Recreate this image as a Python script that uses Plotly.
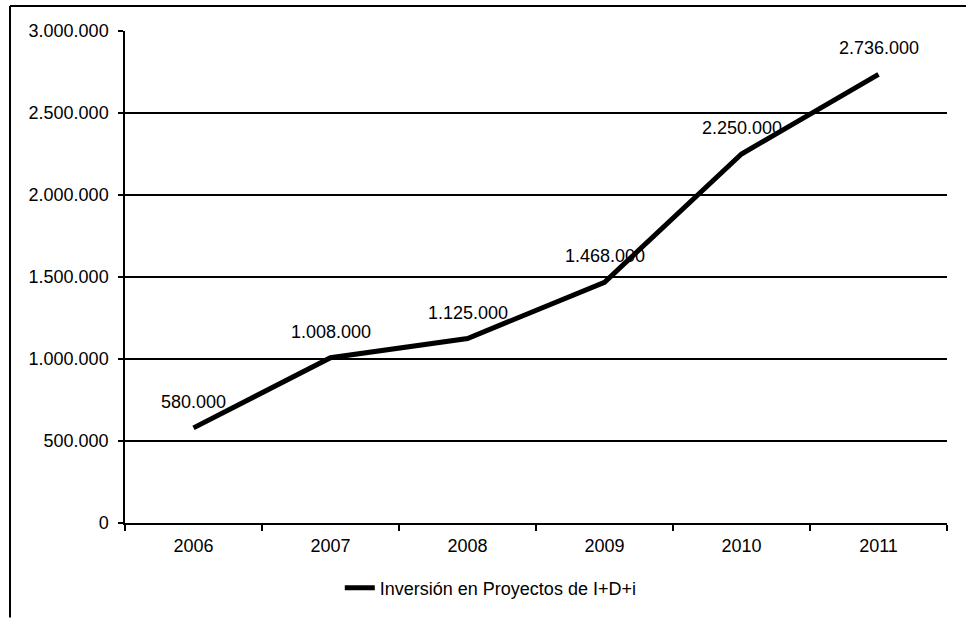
import plotly.graph_objects as go

# Investment in R&D+i projects per year
years = ["2006", "2007", "2008", "2009", "2010", "2011"]
inversion = [580000, 1008000, 1125000, 1468000, 2250000, 2736000]
series_name = "Inversión en Proyectos de I+D+i"
y_ticks = [0, 500000, 1000000, 1500000, 2000000, 2500000, 3000000]

FONT = "Liberation Sans, Arial, sans-serif"
SIZE = 18


def fmt_es(v):
    # thousands separated with dots, as in Spanish number formatting
    return f"{v:,}".replace(",", ".")


fig = go.Figure()
fig.add_trace(go.Scatter(
    x=years,
    y=inversion,
    name=series_name,
    mode="lines",
    line=dict(color="black", width=5),
    showlegend=True,
))

# value labels above each point (category axis: positioned by category index)
for i, val in enumerate(inversion):
    fig.add_annotation(
        x=i, y=val, xref="x", yref="y", text=fmt_es(val), showarrow=False,
        yshift=26, font=dict(family=FONT, size=SIZE, color="black"),
    )

fig.update_layout(
    width=966,
    height=618,
    margin=dict(l=125, r=19, t=31, b=93),
    paper_bgcolor="white",
    plot_bgcolor="white",
    separators=",.",
    font=dict(family=FONT, size=SIZE, color="black"),
    legend=dict(
        orientation="h",
        x=0.445, xanchor="center",
        y=-0.132, yanchor="middle",
        font=dict(family=FONT, size=SIZE, color="black"),
        bgcolor="rgba(0,0,0,0)",
    ),
    xaxis=dict(
        type="category",
        range=[-0.5, 5.5],
        tickson="boundaries",
        ticks="outside",
        ticklen=6,
        tickwidth=1.5,
        tickcolor="black",
        showline=True,
        linecolor="black",
        linewidth=1.5,
        showgrid=False,
        ticklabelstandoff=6,
        tickfont=dict(family=FONT, size=SIZE, color="black"),
    ),
    yaxis=dict(
        range=[0, 3000000],
        tickvals=y_ticks,
        tickformat=",d",
        ticks="outside",
        ticklen=5,
        tickwidth=1.5,
        tickcolor="black",
        showline=True,
        linecolor="black",
        linewidth=1.5,
        showgrid=True,
        gridcolor="black",
        gridwidth=1.5,
        zeroline=False,
        ticklabelstandoff=6,
        tickfont=dict(family=FONT, size=SIZE, color="black"),
    ),
    shapes=[
        # outer chart frame (top and left edges)
        dict(type="line", xref="paper", yref="paper",
             x0=(10 - 125) / 822, x1=1.1, y0=(525 - 6) / 494, y1=(525 - 6) / 494,
             line=dict(color="black", width=2)),
        dict(type="line", xref="paper", yref="paper",
             x0=(10 - 125) / 822, x1=(10 - 125) / 822,
             y0=(525 - 6) / 494, y1=(525 - 620) / 494,
             line=dict(color="black", width=2)),
    ],
)

fig.write_html("out.html")
